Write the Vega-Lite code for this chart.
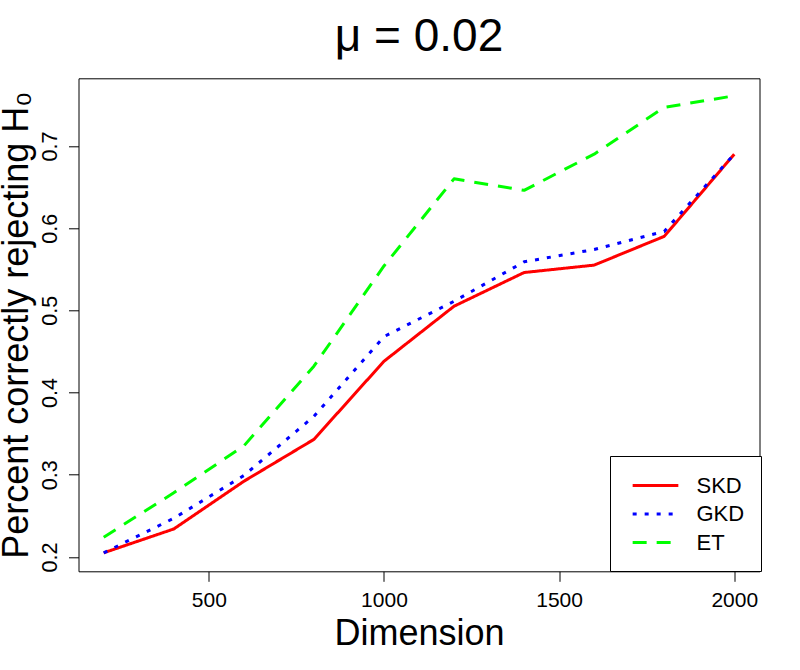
{
  "$schema": "https://vega.github.io/schema/vega-lite/v6.json",
  "width": 681,
  "height": 493,
  "autosize": {"type": "none"},
  "padding": {"left": 78.5, "top": 78.3, "right": 40.5, "bottom": 98.7},
  "background": "white",
  "config": {
    "font": "Liberation Sans",
    "view": {"stroke": "black", "strokeWidth": 1}
  },
  "title": {
    "text": "μ = 0.02",
    "fontSize": 46,
    "fontWeight": "normal",
    "color": "black",
    "anchor": "middle",
    "frame": "group",
    "baseline": "alphabetic",
    "offset": -19
  },
  "data": {
    "values": [
      {"dim": 200, "test": "SKD", "pct": 0.205},
      {"dim": 400, "test": "SKD", "pct": 0.234},
      {"dim": 600, "test": "SKD", "pct": 0.292},
      {"dim": 800, "test": "SKD", "pct": 0.343},
      {"dim": 1000, "test": "SKD", "pct": 0.438},
      {"dim": 1200, "test": "SKD", "pct": 0.505},
      {"dim": 1400, "test": "SKD", "pct": 0.546},
      {"dim": 1600, "test": "SKD", "pct": 0.555},
      {"dim": 1800, "test": "SKD", "pct": 0.590},
      {"dim": 2000, "test": "SKD", "pct": 0.690},
      {"dim": 200, "test": "GKD", "pct": 0.205},
      {"dim": 400, "test": "GKD", "pct": 0.247},
      {"dim": 600, "test": "GKD", "pct": 0.299},
      {"dim": 800, "test": "GKD", "pct": 0.371},
      {"dim": 1000, "test": "GKD", "pct": 0.468},
      {"dim": 1200, "test": "GKD", "pct": 0.511},
      {"dim": 1400, "test": "GKD", "pct": 0.559},
      {"dim": 1600, "test": "GKD", "pct": 0.574},
      {"dim": 1800, "test": "GKD", "pct": 0.596},
      {"dim": 2000, "test": "GKD", "pct": 0.690},
      {"dim": 200, "test": "ET", "pct": 0.224},
      {"dim": 400, "test": "ET", "pct": 0.278},
      {"dim": 600, "test": "ET", "pct": 0.335},
      {"dim": 800, "test": "ET", "pct": 0.432},
      {"dim": 1000, "test": "ET", "pct": 0.554},
      {"dim": 1200, "test": "ET", "pct": 0.660},
      {"dim": 1400, "test": "ET", "pct": 0.646},
      {"dim": 1600, "test": "ET", "pct": 0.690},
      {"dim": 1800, "test": "ET", "pct": 0.747},
      {"dim": 2000, "test": "ET", "pct": 0.761}
    ]
  },
  "mark": {"type": "line", "strokeWidth": 3, "strokeJoin": "round", "strokeCap": "butt"},
  "encoding": {
    "x": {
      "field": "dim",
      "type": "quantitative",
      "scale": {"domain": [128, 2072], "nice": false, "zero": false},
      "axis": {
        "title": "Dimension",
        "values": [500, 1000, 1500, 2000],
        "format": "d",
        "grid": false,
        "domain": false,
        "tickColor": "black",
        "tickSize": 10,
        "labelFontSize": 21,
        "labelColor": "black",
        "labelBaseline": "alphabetic",
        "labelPadding": 25,
        "titleFontSize": 36,
        "titleFontWeight": "normal",
        "titleColor": "black",
        "titleBaseline": "alphabetic",
        "titleY": 73.3,
        "titleX": 340.5
      }
    },
    "y": {
      "field": "pct",
      "type": "quantitative",
      "scale": {"domain": [0.1825, 0.7823], "nice": false, "zero": false},
      "axis": {
        "title": "Percent correctly rejecting H₀",
        "values": [0.2, 0.3, 0.4, 0.5, 0.6, 0.7],
        "format": ".1f",
        "grid": false,
        "domain": false,
        "tickColor": "black",
        "tickSize": 10,
        "labelAngle": -90,
        "labelAlign": "center",
        "labelBaseline": "alphabetic",
        "labelPadding": 12.5,
        "labelFontSize": 21.6,
        "labelColor": "black",
        "titleFontSize": 36,
        "titleFontWeight": "normal",
        "titleColor": "black",
        "titleAngle": -90,
        "titleBaseline": "alphabetic",
        "titleAlign": "center",
        "titleX": -51.5,
        "titleY": 246.5
      }
    },
    "color": {
      "field": "test",
      "type": "nominal",
      "scale": {"domain": ["SKD", "GKD", "ET"], "range": ["#FF0000", "#0000FF", "#00FF00"]},
      "legend": {
        "title": null,
        "orient": "none",
        "legendX": 531.5,
        "legendY": 377.7,
        "fillColor": "white",
        "strokeColor": "black",
        "padding": 16.6,
        "cornerRadius": 0,
        "symbolType": "M-2,0H2",
        "symbolSize": 522,
        "symbolStrokeWidth": 3,
        "symbolOffset": 15.9,
        "labelOffset": 28,
        "labelFontSize": 22,
        "labelColor": "black",
        "rowPadding": 4.5
      }
    },
    "strokeDash": {
      "field": "test",
      "type": "nominal",
      "scale": {"domain": ["SKD", "GKD", "ET"], "range": [[1, 0], [4, 8], [14, 10]]},
      "legend": {
        "title": null,
        "orient": "none",
        "legendX": 531.5,
        "legendY": 377.7,
        "fillColor": "white",
        "strokeColor": "black",
        "padding": 16.6,
        "cornerRadius": 0,
        "symbolType": "M-2,0H2",
        "symbolSize": 522,
        "symbolStrokeWidth": 3,
        "symbolOffset": 15.9,
        "labelOffset": 28,
        "labelFontSize": 22,
        "labelColor": "black",
        "rowPadding": 4.5
      }
    }
  }
}
